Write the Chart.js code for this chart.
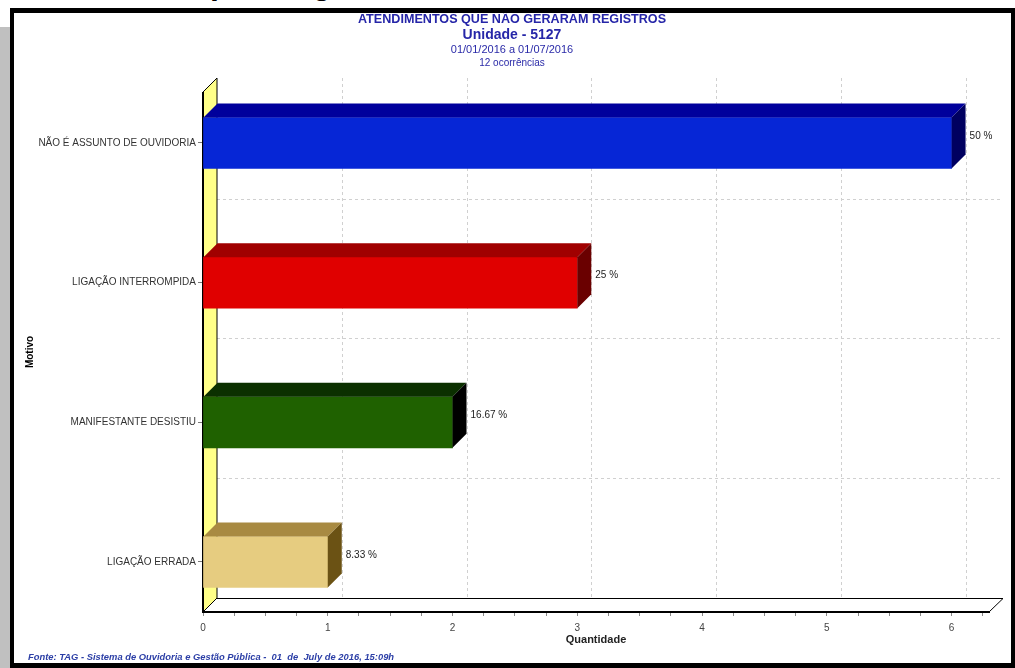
<!DOCTYPE html>
<html>
<head>
<meta charset="utf-8">
<script src="https://cdn.jsdelivr.net/npm/chart.js@4.4.0/dist/chart.umd.min.js"></script>
<style>
  html, body { margin: 0; padding: 0; background: #fff; }
  body { width: 1015px; height: 668px; position: relative; overflow: hidden; font-family: "Liberation Sans", Arial, sans-serif; }
  #wrap { position: absolute; left: 0; top: 0; width: 1015px; height: 668px; }
  .preto { position: absolute; background: #000; }
  #cinza { position: absolute; left: 0; top: 27px; width: 10px; height: 641px; background: #c0c0c0; }
  #fonte { position: absolute; left: 28px; top: 651px; font: italic bold 9.4px "Liberation Sans", Arial, sans-serif; color: #2b3ea6; white-space: pre; }
  #cabecalho { position: absolute; left: 0; top: 0; width: 1015px; height: 8px; overflow: hidden; }
  #cabecalho span { position: absolute; bottom: 9.5px; font: bold 32px/32px "Liberation Sans", Arial, sans-serif; color: #000; }
  .periodo { position: absolute; left: 312px; width: 400px; text-align: center; color: #2a2aa8; font-family: "Liberation Sans", Arial, sans-serif; }
</style>
</head>
<body>
<div id="cabecalho"><span style="left:210px">p</span><span style="left:312px">g</span></div>
<div id="wrap"><canvas id="grafico"></canvas></div>
<div class="periodo" style="top:43px; font-size:11px; line-height:13px">01/01/2016 a 01/07/2016</div>
<div class="periodo" style="top:57px; font-size:10px; line-height:12px">12 ocorrências</div>
<div id="cinza"></div>
<div class="preto" style="left:10px; top:8px; width:1005px; height:5px"></div>
<div class="preto" style="left:10px; top:8px; width:4px; height:660px"></div>
<div class="preto" style="left:1011px; top:8px; width:4px; height:660px"></div>
<div class="preto" style="left:10px; top:663px; width:1005px; height:5px"></div>
<div id="fonte">Fonte: TAG - Sistema de Ouvidoria e Gestão Pública -  01  de  July de 2016, 15:09h</div>

<script>
// dados
const motivos = ['NÃO É ASSUNTO DE OUVIDORIA', 'LIGAÇÃO INTERROMPIDA', 'MANIFESTANTE DESISTIU', 'LIGAÇÃO ERRADA'];
const quantidades = [6, 3, 2, 1];
const percentuais = ['50 %', '25 %', '16.67 %', '8.33 %'];

// cores da frente, do topo e do lado de cada barra
const coresFrente = ['#0626d6', '#e00000', '#1f6100', '#e6cc80'];
const coresTopo = ['#00009c', '#a00000', '#0b3000', '#a88a42'];
const coresLado = ['#000060', '#6a0000', '#000000', '#6b5214'];

const prof = 14; // profundidade do efeito 3D

const efeito3d = {
  id: 'efeito3d',
  beforeDatasetsDraw(chart) {
    const { ctx, chartArea: a, scales: { x, y } } = chart;
    ctx.save();
    // grade tracejada no plano de fundo
    ctx.strokeStyle = '#d0d0d0';
    ctx.lineWidth = 1;
    ctx.setLineDash([3, 3]);
    ctx.beginPath();
    x.ticks.forEach(t => {
      if (!Number.isInteger(t.value) || t.value === 0) return;
      const px = Math.round(x.getPixelForValue(t.value)) + prof + 0.5;
      ctx.moveTo(px, a.top - prof);
      ctx.lineTo(px, a.bottom - prof);
    });
    for (let i = 0; i < motivos.length - 1; i++) {
      const py = Math.round(y.getPixelForValue(i + 0.5)) - prof + 0.5;
      ctx.moveTo(a.left + prof, py);
      ctx.lineTo(a.right + prof, py);
    }
    ctx.stroke();
    ctx.setLineDash([]);

    // chao: borda de tras e diagonal da direita
    ctx.strokeStyle = '#000';
    ctx.beginPath();
    ctx.moveTo(a.left + prof, a.bottom - prof + 0.5);
    ctx.lineTo(a.right + prof, a.bottom - prof + 0.5);
    ctx.lineTo(a.right, a.bottom);
    ctx.stroke();

    // parede amarela da esquerda
    ctx.fillStyle = '#ffff88';
    ctx.beginPath();
    ctx.moveTo(a.left, a.bottom);
    ctx.lineTo(a.left, a.top);
    ctx.lineTo(a.left + prof, a.top - prof);
    ctx.lineTo(a.left + prof, a.bottom - prof);
    ctx.closePath();
    ctx.fill();
    ctx.stroke();
    ctx.lineWidth = 2;
    ctx.beginPath();
    ctx.moveTo(a.left, a.bottom);
    ctx.lineTo(a.left, a.top);
    ctx.stroke();
    ctx.restore();
  },
  afterDatasetsDraw(chart) {
    const { ctx } = chart;
    const meta = chart.getDatasetMeta(0);
    ctx.save();
    meta.data.forEach((bar, i) => {
      const { x: xe, y: yc, base, height: h } = bar.getProps(['x', 'y', 'base', 'height'], true);
      const topo = yc - h / 2, baixo = yc + h / 2;
      // face de cima
      ctx.fillStyle = coresTopo[i];
      ctx.beginPath();
      ctx.moveTo(base, topo);
      ctx.lineTo(base + prof, topo - prof);
      ctx.lineTo(xe + prof, topo - prof);
      ctx.lineTo(xe, topo);
      ctx.closePath();
      ctx.fill();
      // face do lado
      ctx.fillStyle = coresLado[i];
      ctx.beginPath();
      ctx.moveTo(xe, topo);
      ctx.lineTo(xe + prof, topo - prof);
      ctx.lineTo(xe + prof, baixo - prof);
      ctx.lineTo(xe, baixo);
      ctx.closePath();
      ctx.fill();
      // percentual
      ctx.fillStyle = '#222';
      ctx.font = '10px "Liberation Sans", Arial, sans-serif';
      ctx.textAlign = 'left';
      ctx.textBaseline = 'middle';
      ctx.fillText(percentuais[i], xe + prof + 4, yc - prof / 2);
    });
    ctx.restore();
  }
};

const grafico = new Chart(document.getElementById('grafico'), {
  type: 'bar',
  data: {
    datasets: [{
      data: quantidades.map((q, i) => ({ x: q, y: i })),
      backgroundColor: coresFrente,
      borderWidth: 0,
      barThickness: 51
    }]
  },
  plugins: [efeito3d],
  options: {
    indexAxis: 'y',
    responsive: true,
    maintainAspectRatio: false,
    animation: false,
    layout: { padding: { left: 35, right: 26, top: 0, bottom: 0 } },
    plugins: {
      legend: { display: false },
      tooltip: { enabled: false },
      title: {
        display: true,
        text: 'ATENDIMENTOS QUE NÃO GERARAM REGISTROS',
        color: '#2626a8',
        font: { family: '"Liberation Sans", Arial, sans-serif', size: 12.6, weight: 'bold', lineHeight: 1.2 },
        padding: { top: 11.5, bottom: 0 }
      },
      subtitle: {
        display: true,
        text: 'Unidade - 5127',
        color: '#2626a8',
        font: { family: '"Liberation Sans", Arial, sans-serif', size: 14, weight: 'bold', lineHeight: 1.2 },
        padding: { top: 0.6, bottom: 48 }
      }
    },
    scales: {
      x: {
        type: 'linear',
        min: 0,
        max: 6.3,
        afterFit: s => { s.height = 56; },
        border: { display: true, color: '#000', width: 2 },
        grid: { drawOnChartArea: false, drawTicks: true, tickLength: 4, color: '#888' },
        ticks: {
          stepSize: 0.25,
          includeBounds: false,
          autoSkip: false,
          maxRotation: 0,
          padding: 6,
          color: '#444',
          font: { family: '"Liberation Sans", Arial, sans-serif', size: 10 },
          callback: v => Number.isInteger(v) ? String(v) : ''
        },
        title: {
          display: true,
          text: 'Quantidade',
          color: '#222',
          font: { family: '"Liberation Sans", Arial, sans-serif', size: 11, weight: 'bold' },
          padding: { top: 0, bottom: 21 }
        }
      },
      y: {
        type: 'linear',
        reverse: true,
        offset: false,
        min: -0.365,
        max: 3.358,
        afterFit: s => { s.width = 168; },
        afterBuildTicks: s => { s.ticks = motivos.map((m, i) => ({ value: i })); },
        border: { display: false },
        grid: { offset: false, drawOnChartArea: false, drawTicks: true, tickLength: 5, color: '#777' },
        ticks: {
          autoSkip: false,
          padding: 2,
          color: '#333',
          font: { family: '"Liberation Sans", Arial, sans-serif', size: 10 },
          callback: v => motivos[v] || ''
        },
        title: {
          display: true,
          text: 'Motivo',
          color: '#000',
          font: { family: '"Liberation Sans", Arial, sans-serif', size: 10, weight: 'bold' },
          padding: { top: -11, bottom: 0 }
        }
      }
    }
  }
});
</script>
</body>
</html>
